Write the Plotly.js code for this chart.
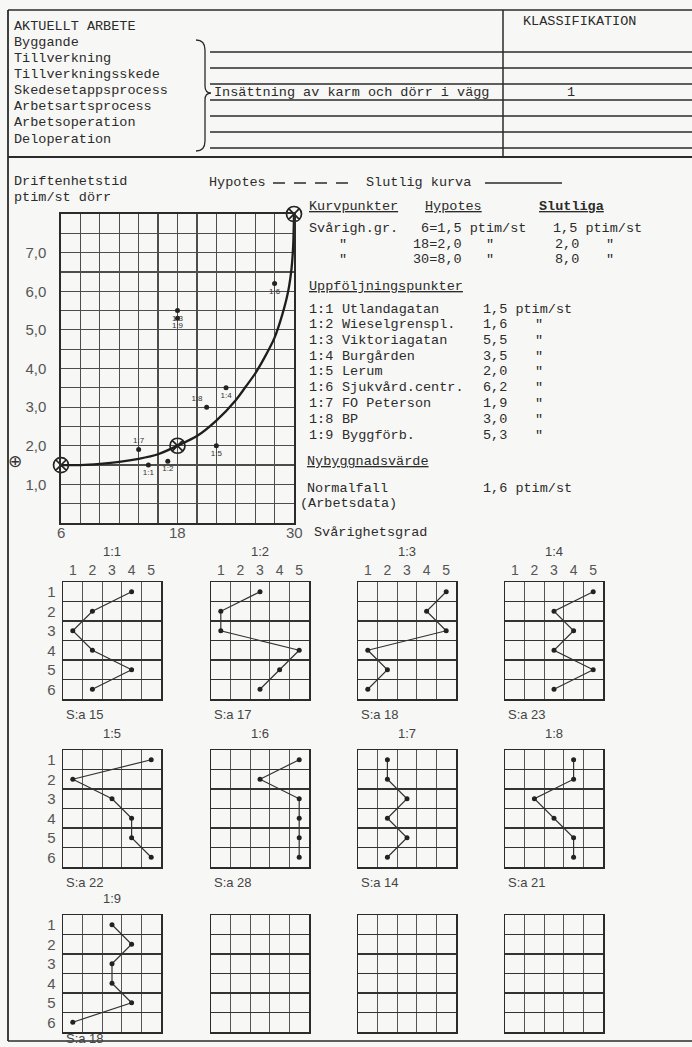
<!DOCTYPE html>
<html>
<head>
<meta charset="utf-8">
<script src="https://cdn.plot.ly/plotly-3.0.1.min.js"></script>
<style>
  html, body { margin: 0; padding: 0; background: #f7f7f5; }
  #chart { width: 692px; height: 1047px; }
</style>
</head>
<body>
<div id="chart"></div>
<script>
// Kurvpunkter: svårighetsgrad -> ptim/st
const kurvSvarighet = [6, 18, 30];
const kurvHypotes = [1.5, 2.0, 8.0];
const kurvSlutliga = [1.5, 2.0, 8.0];

// Slutlig kurva, avläst längs den ritade kurvan
const kurvaX = [6, 8, 10, 12, 14, 16, 18, 20, 22, 24, 25, 26, 27, 28, 28.8, 29.4, 29.75, 29.92, 30];
const kurvaY = [1.5, 1.5, 1.53, 1.58, 1.66, 1.78, 2.0, 2.25, 2.65, 3.18, 3.52, 3.87, 4.3, 4.8, 5.4, 6.0, 6.6, 7.2, 8.0];

// Uppföljningspunkter
const punktId = ['1:1', '1:2', '1:3', '1:4', '1:5', '1:6', '1:7', '1:8', '1:9'];
const punktNamn = ['Utlandagatan', 'Wieselgrenspl.', 'Viktoriagatan', 'Burgården', 'Lerum',
                   'Sjukvård.centr.', 'FO Peterson', 'BP', 'Byggförb.'];
const punktTid = [1.5, 1.6, 5.5, 3.5, 2.0, 6.2, 1.9, 3.0, 5.3];

// Bedömning av faktor 1–6 på skalan 1–5 för varje uppföljningspunkt
const bed11 = [4, 2, 1, 2, 4, 2];
const bed12 = [3, 1, 1, 5, 4, 3];
const bed13 = [5, 4, 5, 1, 2, 1];
const bed14 = [5, 3, 4, 3, 5, 3];
const bed15 = [5, 1, 3, 4, 4, 5];
const bed16 = [5, 3, 5, 5, 5, 5];
const bed17 = [2, 2, 3, 2, 3, 2];
const bed18 = [4, 4, 2, 3, 4, 4];
const bed19 = [3, 4, 3, 3, 4, 1];
const faktorer = [1, 2, 3, 4, 5, 6];
const skala = [1, 2, 3, 4, 5];

// Nybyggnadsvärde, normalfall (Arbetsdata)
const normalfall = 1.6;

// Tidsaxelns skalsteg
const tidTicks = [1, 2, 3, 4, 5, 6, 7];

const bedomningar = [bed11, bed12, bed13, bed14, bed15, bed16, bed17, bed18, bed19];
const summa = bedomningar.map(b => b.reduce((a, v) => a + v, 0));
const fmt = v => v.toFixed(1).replace('.', ',');

// ---------- sidgeometri ----------
const W = 692, H = 1047;
const px = x => x / W;
const py = y => 1 - y / H;
const INK = '#2b2b2b';
const GRID = '#4d4d4d';
const MONO = 'Liberation Mono, DejaVu Sans Mono, monospace';
const SANS = 'Liberation Sans, DejaVu Sans, sans-serif';

const annotations = [];
function txt(x, y, text, o) {
  o = o || {};
  annotations.push({
    xref: 'paper', yref: 'paper', x: px(x), y: py(y), text: text, showarrow: false,
    xanchor: o.anchor || 'left', yanchor: 'middle',
    font: { family: o.family || MONO, size: o.size || 13.5, color: o.color || INK }
  });
}
const shapes = [];
function line(x0, y0, x1, y1, w, dash) {
  shapes.push({
    type: 'line', xref: 'paper', yref: 'paper',
    x0: px(x0), y0: py(y0), x1: px(x1), y1: py(y1),
    line: { color: INK, width: w || 1.3, dash: dash || 'solid' }
  });
}

// ---------- blankettens ram och huvud ----------
line(8, 10, 692, 10, 1.5);
line(8, 10, 8, 1041, 1.8);
line(8, 157, 692, 157, 2);
line(8, 1041, 692, 1041, 1.5);
line(503, 10, 503, 157, 1.5);
[52, 68, 84, 100, 116, 132, 148].forEach(y => line(210, y, 692, y, 1.4));

// klammer
const bp = [[196, 40], [205, 40], [205, 50], [205, 86], [205, 93], [211, 93], [205, 93], [205, 100],
            [205, 141], [205, 151], [196, 151]];
const P = i => px(bp[i][0]) + ' ' + py(bp[i][1]);
shapes.push({
  type: 'path', xref: 'paper', yref: 'paper',
  path: `M ${P(0)} Q ${P(1)} ${P(2)} L ${P(3)} Q ${P(4)} ${P(5)} Q ${P(6)} ${P(7)} L ${P(8)} Q ${P(9)} ${P(10)}`,
  line: { color: INK, width: 1.3 }
});

txt(12, 27, 'AKTUELLT ARBETE');
['Byggande', 'Tillverkning', 'Tillverkningsskede', 'Skedesetappsprocess',
 'Arbetsartsprocess', 'Arbetsoperation', 'Deloperation']
  .forEach((t, i) => txt(12, 42.5 + i * 16.1, t));
txt(521, 22, 'KLASSIFIKATION');
txt(212, 92, 'Insättning av karm och dörr i vägg');
txt(565, 92, '1');

// ---------- diagrammets rubriker ----------
txt(12, 182, 'Driftenhetstid');
txt(12, 197, 'ptim/st dörr');
txt(207, 183, 'Hypotes');
line(273, 183, 348, 183, 1.5, '12px,9px');
txt(364, 183, 'Slutlig kurva');
line(485, 183, 562, 183, 1.5);

txt(307, 206, '<u>Kurvpunkter</u>');
txt(423, 206, '<u>Hypotes</u>');
txt(537, 206, '<b><u>Slutliga</u></b>');
kurvSvarighet.forEach((s, i) => {
  const y = 229 + i * 15;
  txt(i === 0 ? 307 : 337, y, i === 0 ? 'Svårigh.gr.' : '"');
  const hyp = (s < 10 ? '\u00a0' : '') + s + '=' + fmt(kurvHypotes[i]);
  if (i === 0) {
    txt(411, y, hyp + ' ptim/st');
    txt(551, y, fmt(kurvSlutliga[i]) + ' ptim/st');
  } else {
    txt(411, y, hyp);
    txt(484, y, '"');
    txt(553, y, fmt(kurvSlutliga[i]));
    txt(604, y, '"');
  }
});

txt(307, 287, '<u>Uppföljningspunkter</u>');
punktId.forEach((id, i) => {
  const y = 309 + i * 15.75;
  txt(307, y, id);
  txt(340, y, punktNamn[i]);
  if (i === 0) txt(481, y, fmt(punktTid[i]) + ' ptim/st');
  else { txt(481, y, fmt(punktTid[i])); txt(533, y, '"'); }
});

txt(305, 461, '<u>Nybyggnadsvärde</u>');
txt(305, 488, 'Normalfall');
txt(481, 488, fmt(normalfall) + ' ptim/st');
txt(298, 504, '(Arbetsdata)');
txt(312, 533, 'Svårighetsgrad');

// ---------- huvuddiagram ----------
const layout = {
  width: W, height: H,
  margin: { l: 0, r: 0, t: 0, b: 0 },
  paper_bgcolor: '#f7f7f5',
  plot_bgcolor: 'rgba(0,0,0,0)',
  showlegend: false,
  annotations: annotations,
  shapes: shapes,
  xaxis: {
    domain: [px(61), px(294)], range: [6, 30], anchor: 'y',
    tickmode: 'array', tickvals: kurvSvarighet, ticks: '', showticklabels: false,
    showgrid: true, gridcolor: GRID, gridwidth: 1.2,
    minor: { tickmode: 'linear', tick0: 6, dtick: 2, showgrid: true, gridcolor: GRID, gridwidth: 1.2 },
    showline: true, mirror: true, linecolor: INK, linewidth: 1.6, zeroline: false
  },
  yaxis: {
    domain: [py(523), py(214)], range: [0, 8], anchor: 'x',
    tickmode: 'array', tickvals: tidTicks, ticktext: tidTicks.map(fmt), ticks: '',
    showgrid: true, gridcolor: GRID, gridwidth: 1.2,
    minor: { tickmode: 'linear', tick0: 0, dtick: 0.5, showgrid: true, gridcolor: GRID, gridwidth: 1.2 },
    showline: true, mirror: true, linecolor: INK, linewidth: 1.6, zeroline: false,
    tickfont: { family: SANS, size: 15, color: '#555' }, ticklabelstandoff: 10
  }
};

// svårighetsgradens skalvärden under diagrammet
kurvSvarighet.forEach(s => {
  annotations.push({
    xref: 'x', yref: 'paper', x: s, y: py(533), text: String(s), showarrow: false,
    xanchor: 'center', yanchor: 'middle', font: { family: SANS, size: 15, color: '#555' }
  });
});
// Nybyggnadsvärde markerat vid tidsaxeln
annotations.push({
  xref: 'paper', yref: 'y', x: px(15), y: normalfall, text: '\u2295', showarrow: false,
  xanchor: 'center', yanchor: 'middle', font: { family: 'DejaVu Sans', size: 17, color: '#333' }
});

const traces = [];
traces.push({
  type: 'scatter', mode: 'lines', x: kurvaX, y: kurvaY, xaxis: 'x', yaxis: 'y',
  line: { shape: 'spline', smoothing: 0.8, color: '#1e1e1e', width: 2.3 }, hoverinfo: 'skip'
});
traces.push({
  type: 'scatter', mode: 'markers', x: kurvSvarighet, y: kurvSlutliga, xaxis: 'x', yaxis: 'y',
  cliponaxis: false,
  marker: { symbol: 'circle-x-open', size: 15, color: '#222', line: { width: 1.7, color: '#222' } }
});
const textPos = ['bottom center', 'bottom center', 'bottom center', 'bottom center', 'bottom center',
                 'bottom center', 'top center', 'top left', 'bottom center'];
traces.push({
  type: 'scatter', mode: 'markers+text', x: summa, y: punktTid, xaxis: 'x', yaxis: 'y',
  text: punktId, textposition: textPos, cliponaxis: false,
  textfont: { family: SANS, size: 8, color: '#333' },
  marker: { size: 5, color: '#222' }
});

// ---------- bedömningsdiagram 1:1 – 1:9 samt tre tomma ----------
const colX = [63, 211, 358, 505];
const rowY = [582, 750, 915];
const gw = 98, gh = 117;
for (let i = 0; i < 12; i++) {
  const c = i % 4, r = Math.floor(i / 4);
  const k = i + 2;
  const gx = colX[c], gy = rowY[r];
  layout['xaxis' + k] = {
    domain: [px(gx), px(gx + gw)], range: [0.5, 5.5], anchor: 'y' + k,
    side: 'top', tickmode: 'array', tickvals: skala, ticks: '', showgrid: false,
    showticklabels: r === 0, tickfont: { family: SANS, size: 14, color: '#555' }, ticklabelstandoff: 0,
    minor: { tickmode: 'linear', tick0: 0.5, dtick: 1, showgrid: true, gridcolor: '#555', gridwidth: 1 },
    showline: true, mirror: true, linecolor: INK, linewidth: 1.5, zeroline: false
  };
  layout['yaxis' + k] = {
    domain: [py(gy + gh), py(gy)], range: [6.5, 0.5], anchor: 'x' + k,
    tickmode: 'array', tickvals: faktorer, ticks: '', showgrid: false,
    showticklabels: c === 0, tickfont: { family: SANS, size: 15, color: '#555' }, ticklabelstandoff: 3,
    minor: { tickmode: 'linear', tick0: 0.5, dtick: 1, showgrid: true, gridcolor: '#333', gridwidth: 1.8 },
    showline: true, mirror: true, linecolor: INK, linewidth: 1.5, zeroline: false
  };
  if (i < 9) {
    traces.push({
      type: 'scatter', mode: 'lines+markers', x: bedomningar[i], y: faktorer,
      xaxis: 'x' + k, yaxis: 'y' + k, cliponaxis: false,
      line: { color: '#333', width: 1.2 }, marker: { size: 5, color: '#222' }
    });
    txt(gx + gw / 2, gy - (r === 0 ? 30 : 17), punktId[i], { family: SANS, size: 13, color: '#444', anchor: 'center' });
    txt(gx + 1, gy + gh + (r === 2 ? 6 : 15), 'S:a ' + summa[i], { family: SANS, size: 13, color: '#444' });
  } else {
    traces.push({ type: 'scatter', mode: 'markers', x: [], y: [], xaxis: 'x' + k, yaxis: 'y' + k });
  }
}

Plotly.newPlot('chart', traces, layout, { displayModeBar: false, staticPlot: true });
</script>
</body>
</html>
